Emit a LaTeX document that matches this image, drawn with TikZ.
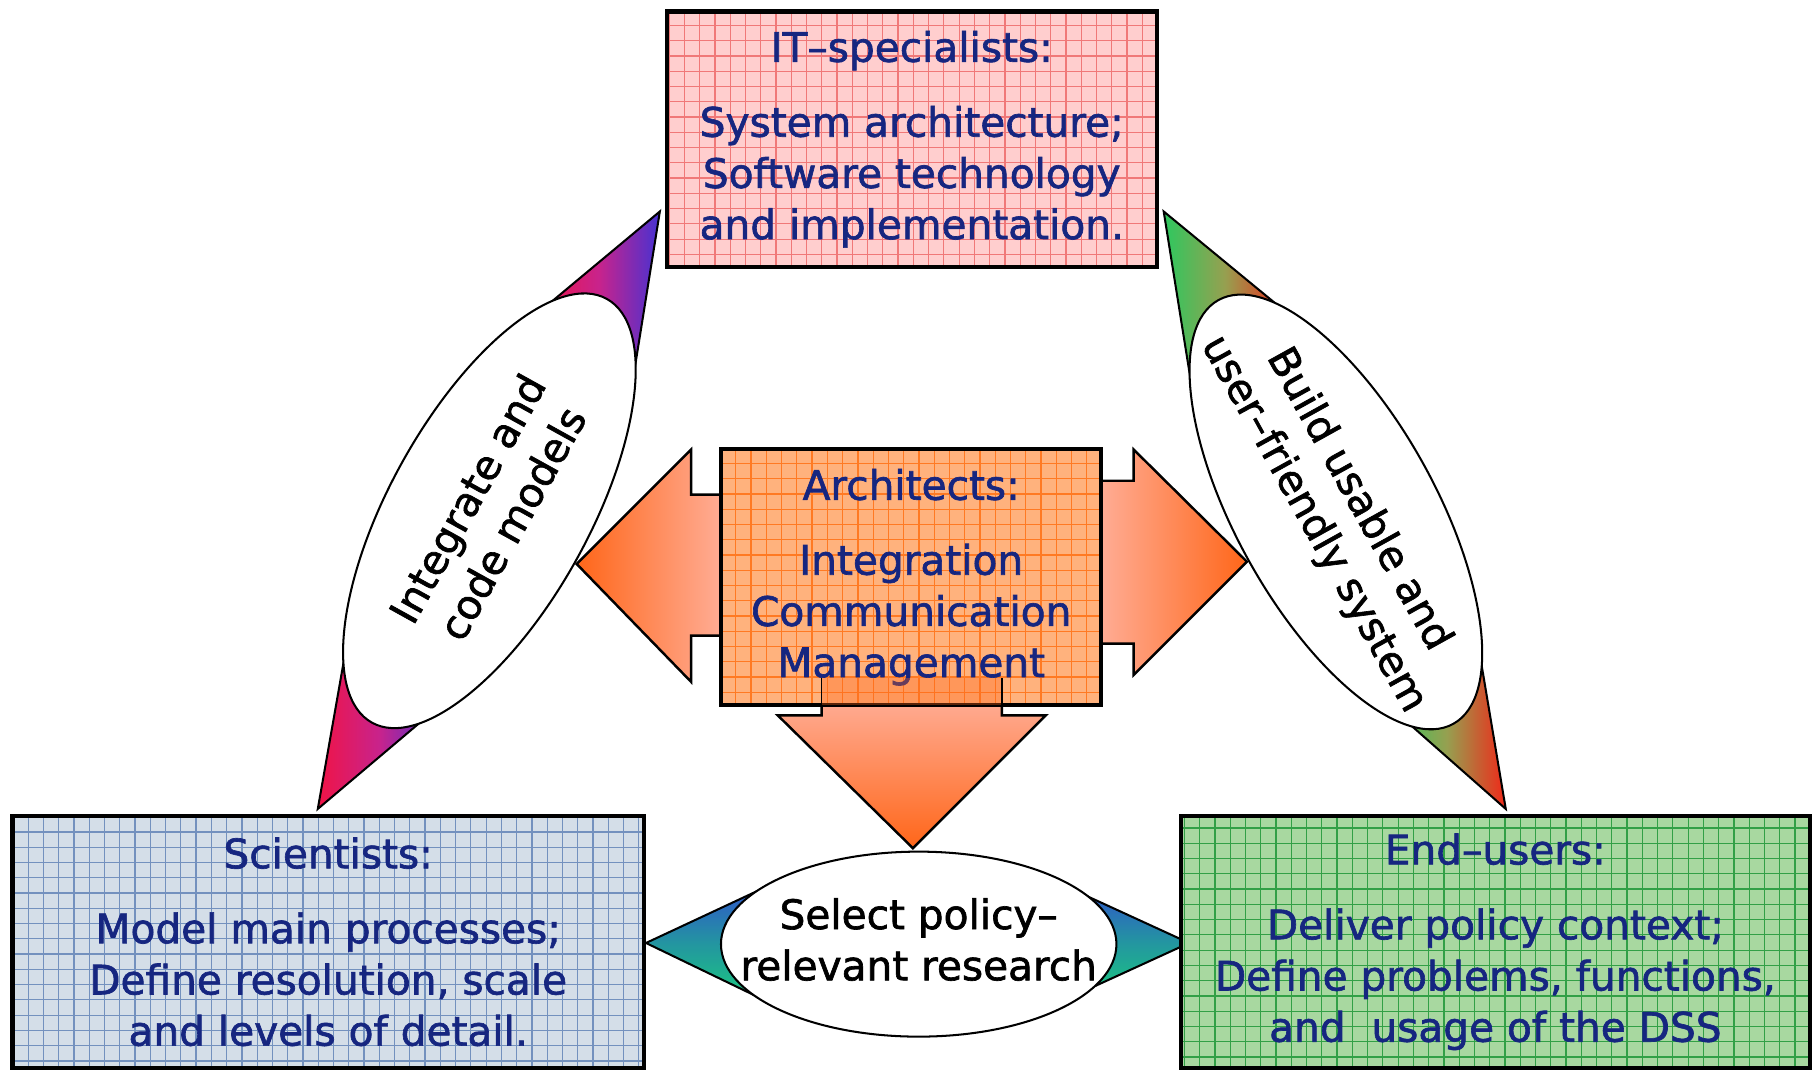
\documentclass[tikz,border=0pt]{standalone}
\usepackage{fontspec}
\setmainfont{DejaVu Sans}
\newfontfamily\rolefamily{DejaVu Sans}[BoldFont={DejaVu Sans}, BoldFeatures={FakeBold=1.6}]
\usepackage{tikz}
\usetikzlibrary{shapes.geometric}
\usetikzlibrary{positioning}

\definecolor{navy}{RGB}{22,38,128}
\definecolor{itfill}{RGB}{255,206,206}
\definecolor{itgrid}{RGB}{240,120,120}
\definecolor{arfill}{RGB}{255,178,125}
\definecolor{argrid}{RGB}{255,122,35}
\definecolor{scfill}{RGB}{212,222,232}
\definecolor{scgrid}{RGB}{115,145,190}
\definecolor{eufill}{RGB}{168,216,160}
\definecolor{eugrid}{RGB}{50,160,70}
\definecolor{salmon}{RGB}{255,172,148}
\definecolor{orangetip}{RGB}{255,102,25}
\definecolor{fanred}{RGB}{240,20,70}
\definecolor{fanmag}{RGB}{200,35,140}
\definecolor{fanblue}{RGB}{70,50,210}
\definecolor{fangreen}{RGB}{45,200,95}
\definecolor{fanolive}{RGB}{150,160,80}
\definecolor{fanorange}{RGB}{240,40,25}
\definecolor{fantop}{RGB}{50,75,210}
\definecolor{fanteal}{RGB}{35,150,160}
\definecolor{fanbottom}{RGB}{25,210,120}

\newcommand{\rolefont}{\rolefamily\bfseries\fontsize{10}{12.6}\selectfont}

\tikzset{gridpaper/.style={path picture={
      \draw[#1, line width=0.3pt]
      (path picture bounding box.south west) grid[step=0.132cm]
      (path picture bounding box.north east);
    }}}
\tikzstyle{role}=[draw=black, line width=1pt, text=navy, align=center, font=\rolefont, inner sep=0pt]
\tikzstyle{itbox}=[role, fill=itfill, gridpaper=itgrid, minimum width=4.24cm, minimum height=2.21cm]
\tikzstyle{archbox}=[role, fill=arfill, gridpaper=argrid, minimum width=3.29cm, minimum height=2.21cm]
\tikzstyle{scibox}=[role, fill=scfill, gridpaper=scgrid, minimum width=5.46cm, minimum height=2.18cm]
\tikzstyle{userbox}=[role, fill=eufill, gridpaper=eugrid, minimum width=5.44cm, minimum height=2.18cm]
\tikzstyle{bubble}=[ellipse, draw=black, fill=white, line width=0.5pt, inner sep=0pt]
\tikzstyle{bubbletext}=[align=center, font=\rolefont, text=black, inner sep=0pt]
\tikzstyle{fan}=[draw=black, line width=0.5pt]
\tikzstyle{bigarrow}=[draw=black, line width=0.6pt]

\begin{document}
\begin{tikzpicture}[x=0.01cm, y=-0.01cm]
\useasboundingbox (0,0) rectangle (1568,927);
% fans behind the ellipses
\draw[fan, left color=fanred, right color=fanblue, middle color=fanmag] (571,183) -- (465.4,271) -- (546,339) -- cycle;
\draw[fan, left color=fanred, right color=fanblue, middle color=fanmag] (275,700) -- (303.6,537.5) -- (381.7,609.8) -- cycle;
\draw[fan, left color=fangreen, right color=fanorange, middle color=fanolive] (1007,183) -- (1033,345.5) -- (1112.6,269.9) -- cycle;
\draw[fan, left color=fangreen, right color=fanorange, middle color=fanolive] (1303,700) -- (1275.7,537.5) -- (1200.7,609.8) -- cycle;
\draw[fan, top color=fantop, bottom color=fanbottom, middle color=fanteal] (559,816) -- (680,759.5) -- (680,874.4) -- cycle;
\draw[fan, top color=fantop, bottom color=fanbottom, middle color=fanteal] (1029,816) -- (910,761.4) -- (910,870.5) -- cycle;
% ellipses
\node[bubble, minimum width=4.19cm, minimum height=1.726cm, rotate=61] (integrate) at (423.5,442) {};
\node[bubbletext, rotate=61] (integratetext) at (integrate.center) {Integrate and\\code models};
\node[bubble, minimum width=4.19cm, minimum height=1.726cm, rotate=-61] (build) at (1156,443) {};
\node[bubbletext, rotate=-61] (buildtext) at (build.center) {Build usable and\\user–friendly system};
\node[bubble, minimum width=3.42cm, minimum height=1.6cm] (select) at (795,817) {};
\node[bubbletext] (selecttext) at (795,813) {Select policy–\\relevant research};
% arrows out of the architects box
\draw[bigarrow, left color=orangetip, right color=salmon] (624,428) -- (598,428) -- (598,389) -- (499,488) -- (598,590) -- (598,550) -- (624,550) -- cycle;
\draw[bigarrow, left color=salmon, right color=orangetip] (953,416) -- (981,416) -- (981,389) -- (1079,486) -- (981,584) -- (981,557) -- (953,557) -- cycle;
\draw[bigarrow, top color=salmon, bottom color=orangetip] (711,605) -- (711,619) -- (673,619) -- (790,734) -- (905,619) -- (867,619) -- (867,605) -- cycle;
% boxes
\node[itbox] (it) at (789,120.5) {IT–specialists:\\[0.205cm]System architecture;\\Software technology\\and implementation.};
\node[archbox] (arch) at (788.5,499.5) {Architects:\\[0.205cm]Integration\\Communication\\Management};
\node[scibox] (sci) at (284,815) {Scientists:\\[0.205cm]Model main processes;\\Define resolution, scale\\and levels of detail.};
\node[userbox] (users) at (1294,815) {End–users:\\[0.205cm]Deliver policy context;\\Define problems, functions,\\and\ \ usage of the DSS};
% shaft of the down arrow seen through the box
\fill[orangetip, fill opacity=0.35] (711,587) rectangle (867,610);
\draw[line width=0.4pt] (711,587) -- (711,619) (867,587) -- (867,619);
\end{tikzpicture}
\end{document}
